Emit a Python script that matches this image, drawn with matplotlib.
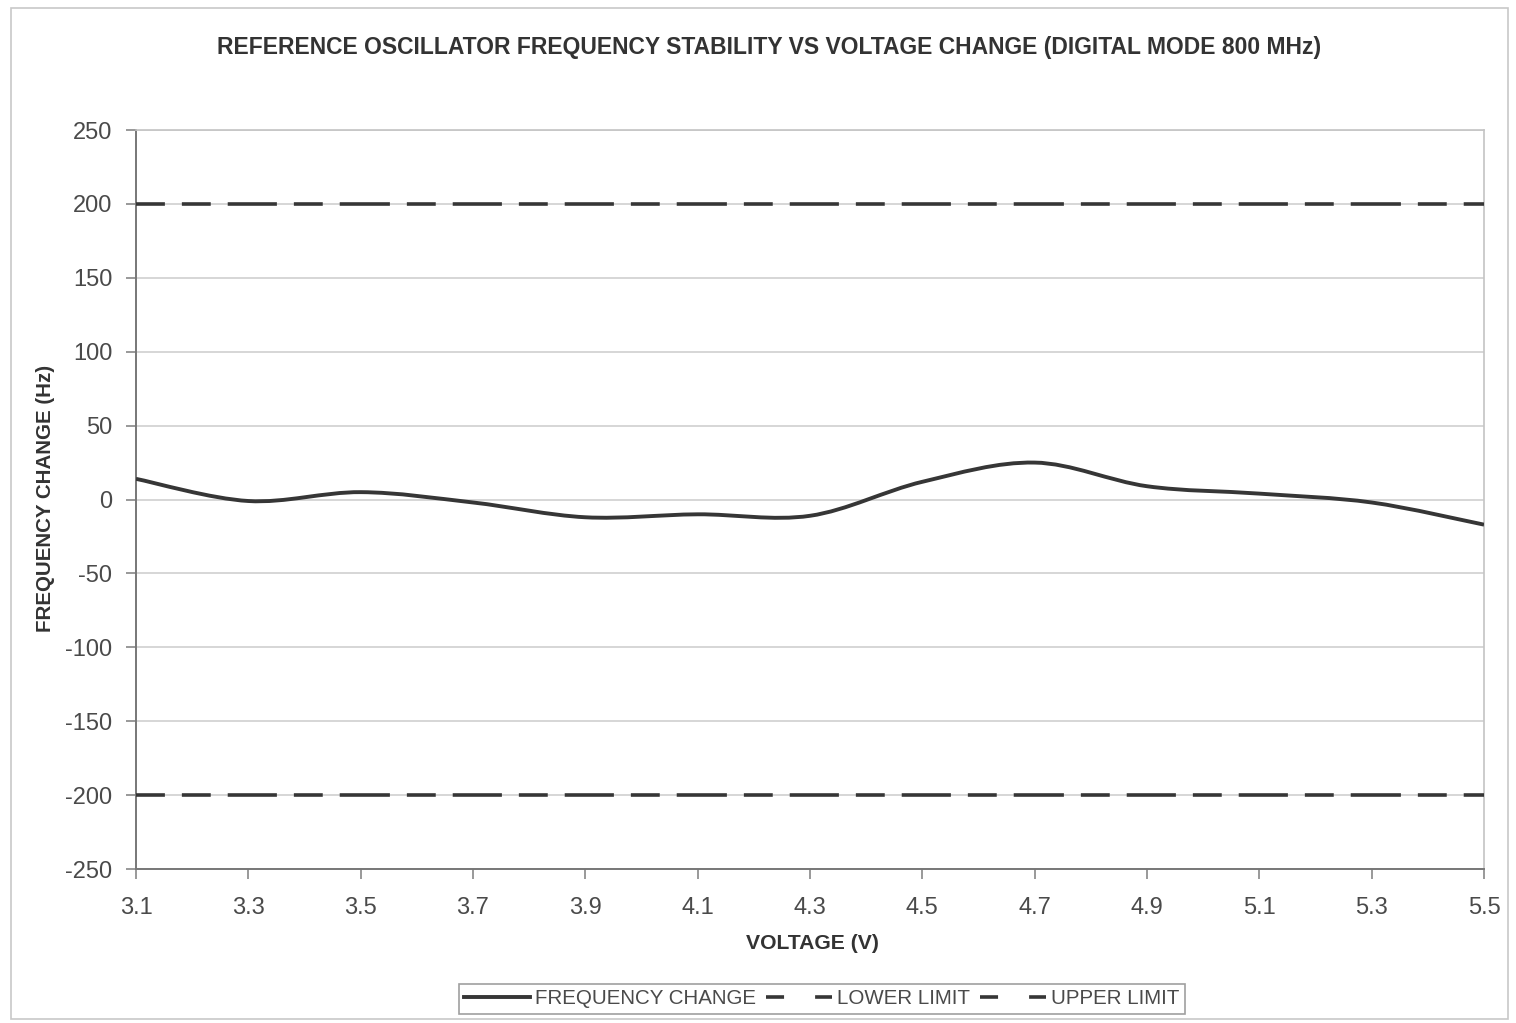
import matplotlib
matplotlib.use('Agg')
import matplotlib.pyplot as plt
from matplotlib.path import Path
from matplotlib.patches import PathPatch, Rectangle
from matplotlib.lines import Line2D

plt.rcParams['font.family'] = ['Liberation Sans', 'DejaVu Sans']
plt.rcParams['axes.unicode_minus'] = False

## Data
voltage = [3.1, 3.3, 3.5, 3.7, 3.9, 4.1, 4.3, 4.5, 4.7, 4.9, 5.1, 5.3, 5.5]
freq_change = [14, -1, 5, -2, -12, -10, -11, 12, 25, 9, 4, -2, -17]
lower_limit = [-200] * 13
upper_limit = [200] * 13
x_ticks = [3.1, 3.3, 3.5, 3.7, 3.9, 4.1, 4.3, 4.5, 4.7, 4.9, 5.1, 5.3, 5.5]
y_ticks = [-250, -200, -150, -100, -50, 0, 50, 100, 150, 200, 250]

LINE_COL = '#363636'
TEXT_COL = '#4a4a4a'
LIMIT_DASH = (8, 4.7)


def smooth_path(xs, ys, tension=1.0 / 6):
    '''Excel-style smoothed line as a Bezier path through the data points.'''
    verts = [(xs[0], ys[0])]
    codes = [Path.MOVETO]
    n = len(xs)
    for i in range(n - 1):
        x0, y0 = (xs[i - 1], ys[i - 1]) if i > 0 else (xs[i], ys[i])
        x1, y1 = xs[i], ys[i]
        x2, y2 = xs[i + 1], ys[i + 1]
        x3, y3 = (xs[i + 2], ys[i + 2]) if i + 2 < n else (x2, y2)
        c1 = (x1 + (x2 - x0) * tension, y1 + (y2 - y0) * tension)
        c2 = (x2 - (x3 - x1) * tension, y2 - (y3 - y1) * tension)
        verts += [c1, c2, (x2, y2)]
        codes += [Path.CURVE4] * 3
    return Path(verts, codes)


fig = plt.figure(figsize=(15.16, 10.23), dpi=100)
ax = fig.add_axes([0.0897, 0.1505, 0.8892, 0.7224])

## outer chart border
fig.patches.append(Rectangle((0.007, 0.004), 0.988, 0.988, transform=fig.transFigure,
                             fill=False, edgecolor='#c8c8c8', linewidth=1.2))

ax.set_xlim(3.1, 5.5)
ax.set_ylim(-250, 250)
ax.set_xticks(x_ticks)
ax.set_xticklabels(['%.1f' % v for v in x_ticks])
ax.set_yticks(y_ticks)
ax.grid(axis='y', color='#cfcfcf', linewidth=1.2)
ax.set_axisbelow(True)

for side in ['top', 'right']:
    ax.spines[side].set_color('#c4c4c4')
    ax.spines[side].set_linewidth(1.2)
for side in ['left', 'bottom']:
    ax.spines[side].set_color('#777777')
    ax.spines[side].set_linewidth(1.4)

ax.tick_params(axis='both', direction='out', length=7, width=1.2, color='#888888',
               labelsize=17, labelcolor=TEXT_COL)
ax.tick_params(axis='x', pad=13)
ax.tick_params(axis='y', pad=10)

ax.add_patch(PathPatch(smooth_path(voltage, freq_change), facecolor='none',
                       edgecolor=LINE_COL, linewidth=2.8, capstyle='butt', zorder=3))
## Excel restarts the dash pattern at every data point, so draw the limits segment by segment
for i in range(len(voltage) - 1):
    ax.plot(voltage[i:i + 2], lower_limit[i:i + 2], color=LINE_COL, linewidth=2.6,
            dashes=LIMIT_DASH, zorder=3)
    ax.plot(voltage[i:i + 2], upper_limit[i:i + 2], color=LINE_COL, linewidth=2.6,
            dashes=LIMIT_DASH, zorder=3)

fig.text(0.507, 0.954, 'REFERENCE OSCILLATOR FREQUENCY STABILITY VS VOLTAGE CHANGE (DIGITAL MODE 800 MHz)',
         ha='center', va='center', fontsize=16.5, fontweight='bold', color='#333333')
fig.text(0.0297, 0.513, 'FREQUENCY CHANGE (Hz)', rotation=90, ha='center', va='center',
         fontsize=14.8, fontweight='bold', color='#333333')
fig.text(0.536, 0.078, 'VOLTAGE (V)', ha='center', va='center',
         fontsize=15.2, fontweight='bold', color='#333333')

handles = [Line2D([], [], color=LINE_COL, linewidth=2.8),
           Line2D([], [], color=LINE_COL, linewidth=2.6, dashes=(5, 8.6)),
           Line2D([], [], color=LINE_COL, linewidth=2.6, dashes=(5, 8.6))]
leg = fig.legend(handles, ['FREQUENCY CHANGE', 'LOWER LIMIT', 'UPPER LIMIT'],
                 loc='center', bbox_to_anchor=(0.542, 0.0235), ncol=3, frameon=True,
                 fancybox=False, edgecolor='#888888', fontsize=14.8, handlelength=3.2,
                 handletextpad=0.25, columnspacing=0.5, borderpad=0.25, labelcolor=TEXT_COL)
leg.get_frame().set_linewidth(1.2)

fig.savefig('out.png', dpi=100, facecolor='white')
